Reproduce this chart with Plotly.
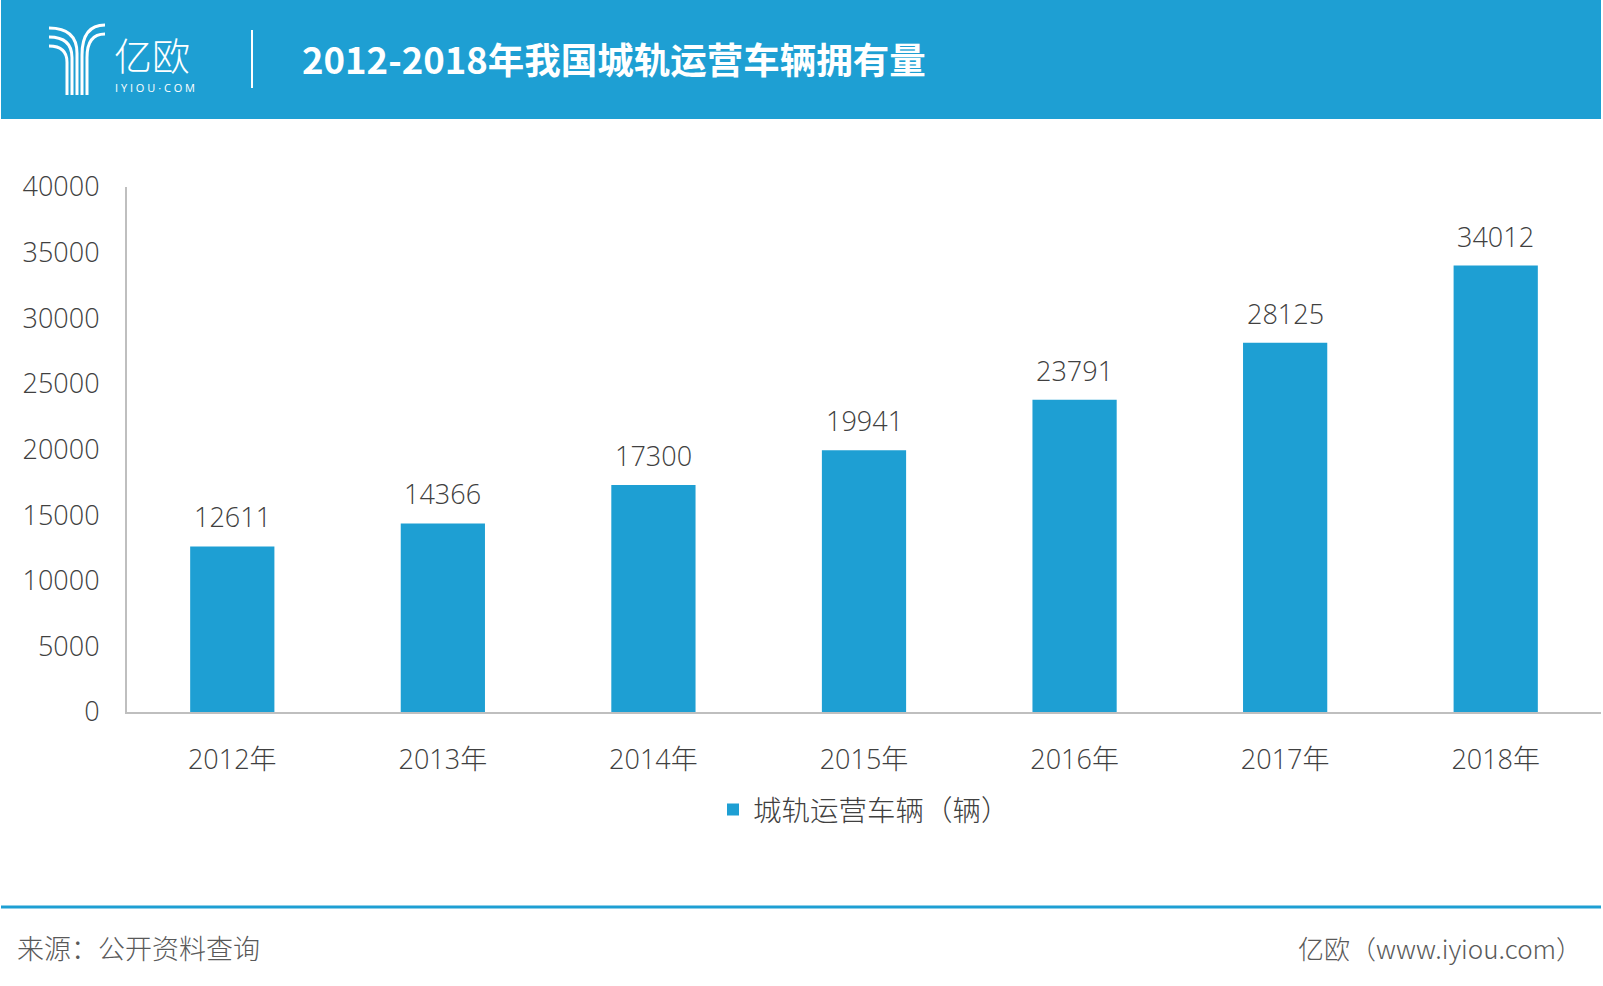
import plotly.graph_objects as go

categories = ["2012年", "2013年", "2014年", "2015年", "2016年", "2017年", "2018年"]
values = [12611, 14366, 17300, 19941, 23791, 28125, 34012]
y_ticks = [0, 5000, 10000, 15000, 20000, 25000, 30000, 35000, 40000]
series_name = "城轨运营车辆（辆）"
title_text = "2012-2018年我国城轨运营车辆拥有量"
source_text = "来源：公开资料查询"
brand_text = "亿欧（www.iyiou.com）"

BLUE = "#1e9fd3"
TXT = "#404040"
W, H = 1603, 986
X0, X1, YT, YB = 127, 1601, 187, 712


def px(x):
    return (x - X0) / (X1 - X0)


def py(y):
    return (YB - y) / (YB - YT)


FONT = "Open Sans, Noto Sans CJK SC, sans-serif"
CJK = "Noto Sans CJK SC, sans-serif"

fig = go.Figure()
fig.add_trace(go.Bar(
    x=categories, y=values, name=series_name, marker_color=BLUE,
    marker_line_width=0, showlegend=True,
))

annotations = []
for c, v in zip(categories, values):
    annotations.append(dict(x=c, y=v, xref="x", yref="y", text=str(v), showarrow=False,
                            yanchor="bottom", yshift=9,
                            font=dict(family=FONT, size=27, color=TXT, weight=300)))

# header title
annotations.append(dict(x=px(300), y=py(59), xref="paper", yref="paper", text=title_text,
                        showarrow=False, xanchor="left", yanchor="middle",
                        font=dict(family=CJK, size=36.5, color="white", weight=700)))
# logo texts
annotations.append(dict(x=px(112), y=py(54), xref="paper", yref="paper", text="亿欧",
                        showarrow=False, xanchor="left", yanchor="middle",
                        font=dict(family=CJK, size=38, color="white", weight=300)))
annotations.append(dict(x=px(113), y=py(88), xref="paper", yref="paper", text="I Y I O U · C O M",
                        showarrow=False, xanchor="left", yanchor="middle",
                        font=dict(family=FONT, size=11, color="white")))
# footer
annotations.append(dict(x=px(15), y=py(947), xref="paper", yref="paper", text=source_text,
                        showarrow=False, xanchor="left", yanchor="middle",
                        font=dict(family=CJK, size=27, color="#595959", weight=300)))
annotations.append(dict(x=px(1584), y=py(947), xref="paper", yref="paper", text=brand_text,
                        showarrow=False, xanchor="right", yanchor="middle",
                        font=dict(family=CJK, size=26, color="#595959", weight=300)))

shapes = [
    dict(type="rect", xref="paper", yref="paper", x0=px(1), x1=px(1601), y0=py(0), y1=py(119),
         fillcolor=BLUE, line_width=0, layer="below"),
    dict(type="line", xref="paper", yref="paper", x0=px(252), x1=px(252), y0=py(30), y1=py(88),
         line=dict(color="white", width=2)),
    dict(type="line", xref="paper", yref="paper", x0=px(1), x1=px(1601), y0=py(907), y1=py(907),
         line=dict(color=BLUE, width=3)),
]

# logo Y icon (left branches)
for y0, ex in [(28, 77), (37, 72), (46, 67)]:
    d = (f"M{px(49)},{py(y0)} Q{px(ex)},{py(y0)} {px(ex)},{py(y0 + (ex - 49) * 0.9)} "
         f"L{px(ex)},{py(95)}")
    shapes.append(dict(type="path", xref="paper", yref="paper", path=d,
                       line=dict(color="white", width=3)))
# right branches
for y0, ex in [(25, 82), (34, 87)]:
    d = (f"M{px(105)},{py(y0)} Q{px(ex)},{py(y0)} {px(ex)},{py(y0 + (105 - ex) * 1.3)} "
         f"L{px(ex)},{py(95)}")
    shapes.append(dict(type="path", xref="paper", yref="paper", path=d,
                       line=dict(color="white", width=3)))

fig.update_layout(
    width=W, height=H, autosize=False,
    margin=dict(l=X0, r=W - X1, t=YT, b=H - YB, pad=0),
    paper_bgcolor="white", plot_bgcolor="white",
    bargap=0.6,
    font=dict(family=FONT, color=TXT),
    showlegend=True,
    legend=dict(orientation="h", x=0.5, xanchor="center", y=py(810), yanchor="middle",
                font=dict(family=CJK, size=28.5, color=TXT, weight=300),
                itemwidth=30, bgcolor="rgba(0,0,0,0)"),
    annotations=annotations,
    shapes=shapes,
)
fig.update_xaxes(
    showline=True, linecolor="#bfbfbf", linewidth=2, showgrid=False,
    ticks="outside", ticklen=23, tickcolor="rgba(0,0,0,0)",
    tickfont=dict(family=FONT, size=27, color=TXT, weight=300),
    fixedrange=True,
)
fig.update_yaxes(
    range=[0, 40000], tickvals=y_ticks, ticktext=[str(t) for t in y_ticks],
    showline=True, linecolor="#bfbfbf", linewidth=2, showgrid=False, zeroline=False,
    ticks="outside", ticklen=20, tickcolor="rgba(0,0,0,0)",
    tickfont=dict(family=FONT, size=27, color=TXT, weight=300),
    fixedrange=True,
)

fig.write_html("out.html", config={"displayModeBar": False},
               post_script="document.body.style.margin='0';")
